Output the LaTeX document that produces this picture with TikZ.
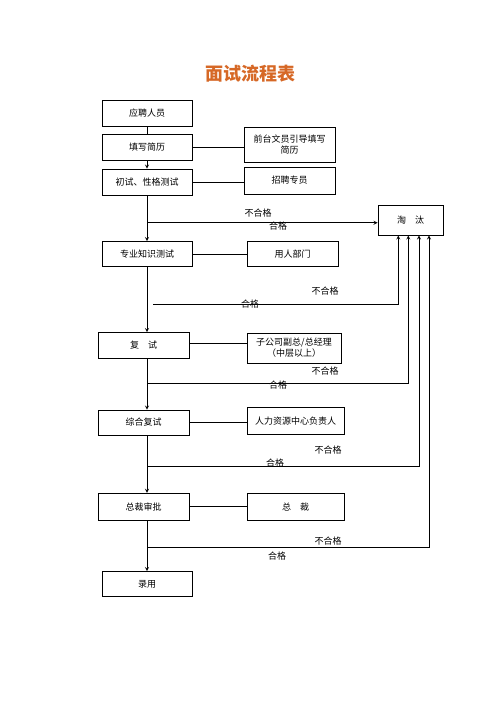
\documentclass[tikz,border=0pt]{standalone}
\usepackage{fontspec}
\usepackage{tikz}
\usetikzlibrary{shapes,calc,arrows}
\newfontfamily\cjk{Noto Sans CJK SC}
\definecolor{titleorange}{RGB}{214,104,38}
\tikzset{
    box/.style={draw, line width=0.8pt, inner sep=0pt, align=center, minimum width=90pt, minimum height=26pt, font=\cjk\fontsize{9}{11}\selectfont},
    lbl/.style={inner sep=0pt, font=\cjk\fontsize{9}{10}\selectfont},
    flow/.style={line width=0.8pt, ->, >=stealth}
}

\begin{document}
\begin{tikzpicture}[x=1pt, y=-1pt]
                \useasboundingbox (0,0) rectangle (500,707);

                \node[text=titleorange, font=\cjk\bfseries\fontsize{18}{20}\selectfont] (title) at (250,74) {面试流程表};

                \node[box] (yp) at (147,113) {应聘人员};
                \node[box] (tx) at (147,147) {填写简历};
                \node[box] (cs) at (147,182) {初试、性格测试};
                \node[box, minimum width=91pt, minimum height=35pt] (qt) at (289.5,144.5) {前台文员引导填写\\简历};
                \node[box, minimum width=91pt, minimum height=27pt] (zp) at (289.5,180.5) {招聘专员};
                \node[box, minimum width=65pt, minimum height=30pt] (tt) at (410.5,220) {淘　汰};
                \node[box, minimum height=25pt] (zy) at (147,254) {专业知识测试};
                \node[box, minimum width=91pt, minimum height=25pt] (yr) at (292.5,254) {用人部门};
                \node[box, minimum width=91pt] (fs) at (143.7,345.5) {复　试};
                \node[box, minimum width=94pt, minimum height=30pt] (zg) at (294,348) {子公司副总/总经理\\（中层以上）};
                \node[box, minimum width=91pt, minimum height=25pt] (zh) at (143.7,422.5) {综合复试};
                \node[box, minimum width=97pt, minimum height=27pt] (rl) at (295.5,420.7) {人力资源中心负责人};
                \node[box, minimum width=91pt, minimum height=27pt] (zs) at (143.7,506.7) {总裁审批};
                \node[box, minimum width=97pt, minimum height=27pt] (zc) at (295.5,506.7) {总　裁};
                \node[box, minimum height=25pt] (ly) at (147,584) {录用};

                \draw[line width=0.8pt] (yp) -- (tx);
                \draw[flow] (tx) -- (cs);
                \draw[flow] (cs) -- (zy);
                \draw[flow] (zy.south) -- (zy.south |- fs.north);
                \draw[flow] (zy.south |- fs.south) -- (zy.south |- zh.north);
                \draw[flow] (zy.south |- zh.south) -- (zy.south |- zs.north);
                \draw[flow] (zy.south |- zs.south) -- (ly.north);

                \draw[line width=0.8pt] (tx.east) -- (tx.east -| qt.west);
                \draw[line width=0.8pt] (cs.east) -- (cs.east -| zp.west);
                \draw[line width=0.8pt] (zy.east) -- (zy.east -| yr.west);
                \draw[line width=0.8pt] (fs.east |- zg.north) ++(0,11) coordinate (fz) -- (fz -| zg.west);
                \draw[line width=0.8pt] (zh.east) -- (zh.east -| rl.west);
                \draw[line width=0.8pt] (zs.east) -- (zs.east -| zc.west);

                \coordinate (f1) at (147,222.7);
                \coordinate (f2) at (153,304.3);
                \coordinate (f2e) at (398.3,304.3);
                \coordinate (f3) at (147,383.3);
                \coordinate (f3e) at (408.3,383.3);
                \coordinate (f4) at (147,466.7);
                \coordinate (f4e) at (419,466.7);
                \coordinate (f5) at (147,547.3);
                \coordinate (f5e) at (429,547.3);

                \draw[flow] (f1) -- (f1 -| tt.west);
                \draw[flow] (f2) -- (f2e) -- (f2e |- tt.south);
                \draw[flow] (f3) -- (f3e) -- (f3e |- tt.south);
                \draw[flow] (f4) -- (f4e) -- (f4e |- tt.south);
                \draw[flow] (f5) -- (f5e) -- (f5e |- tt.south);

                \node[lbl] (n1) at (258,212.7) {不合格};
                \node[lbl] (p1) at (278,226) {合格};
                \node[lbl] (n2) at (325,291) {不合格};
                \node[lbl] (p2) at (250,304) {合格};
                \node[lbl] (n3) at (325,371) {不合格};
                \node[lbl] (p3) at (278,385) {合格};
                \node[lbl] (n4) at (328,450) {不合格};
                \node[lbl] (p4) at (275,462.7) {合格};
                \node[lbl] (n5) at (328,541) {不合格};
                \node[lbl] (p5) at (277,555.7) {合格};
\end{tikzpicture}
\end{document}
